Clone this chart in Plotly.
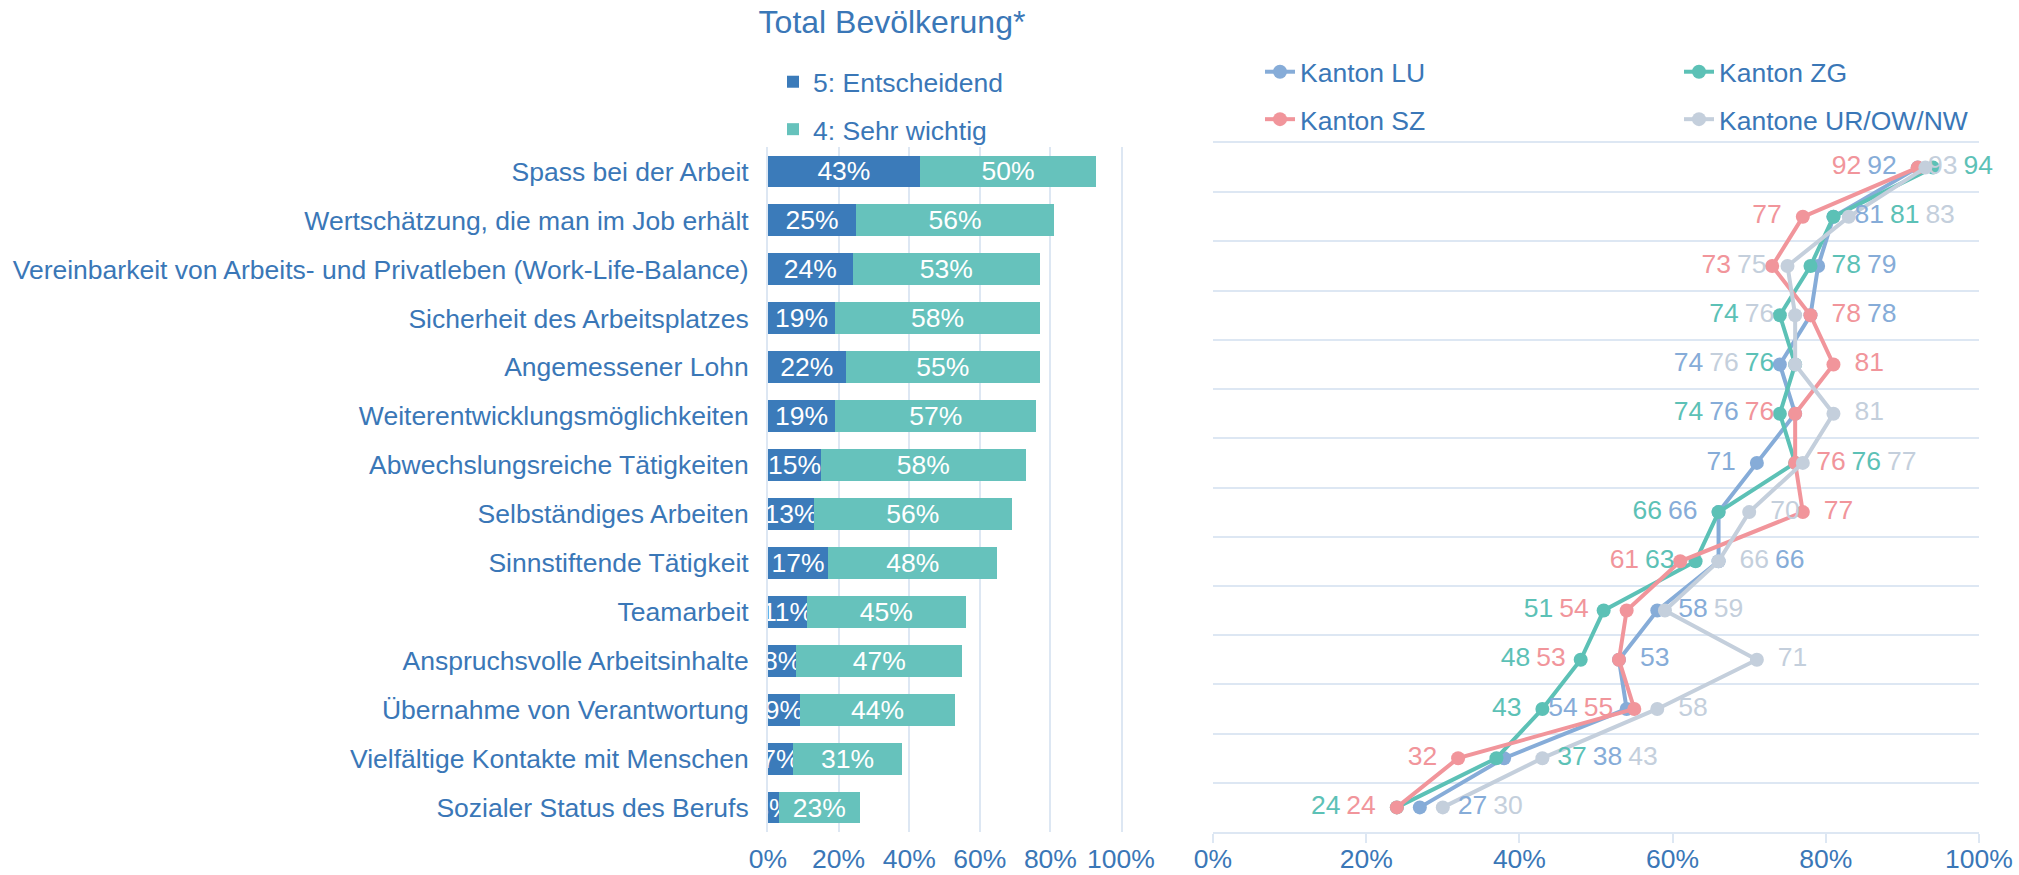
import plotly.graph_objects as go

# ---------------- data ----------------
categories = [
    "Spass bei der Arbeit",
    "Wertschätzung, die man im Job erhält",
    "Vereinbarkeit von Arbeits- und Privatleben (Work-Life-Balance)",
    "Sicherheit des Arbeitsplatzes",
    "Angemessener Lohn",
    "Weiterentwicklungsmöglichkeiten",
    "Abwechslungsreiche Tätigkeiten",
    "Selbständiges Arbeiten",
    "Sinnstiftende Tätigkeit",
    "Teamarbeit",
    "Anspruchsvolle Arbeitsinhalte",
    "Übernahme von Verantwortung",
    "Vielfältige Kontakte mit Menschen",
    "Sozialer Status des Berufs",
]
share_entscheidend = [43, 25, 24, 19, 22, 19, 15, 13, 17, 11, 8, 9, 7, 3]
share_sehr_wichtig = [50, 56, 53, 58, 55, 57, 58, 56, 48, 45, 47, 44, 31, 23]

kanton_lu = [92, 81, 79, 78, 74, 76, 71, 66, 66, 58, 53, 54, 38, 27]
kanton_zg = [94, 81, 78, 74, 76, 74, 76, 66, 63, 51, 48, 43, 37, 24]
kanton_sz = [92, 77, 73, 78, 81, 76, 76, 77, 61, 54, 53, 55, 32, 24]
kanton_ur = [93, 83, 75, 76, 76, 81, 77, 70, 66, 59, 71, 58, 43, 30]

x_ticks = [0, 20, 40, 60, 80, 100]
x_tick_labels = [f"{v}%" for v in x_ticks]

series_names = {"LU": "Kanton LU", "ZG": "Kanton ZG", "SZ": "Kanton SZ", "UR": "Kantone UR/OW/NW"}
series_values = {"LU": kanton_lu, "ZG": kanton_zg, "SZ": kanton_sz, "UR": kanton_ur}

# ---------------- style ----------------
W, H = 2019, 875
FONT = "Liberation Sans, Arial, sans-serif"
TEXT = "#3a77b7"
GRID = "#dde7f3"
C_DARK = "#3b7bba"
C_TEAL = "#66c2bc"
series_colors = {"LU": "#86acd8", "ZG": "#5cc1b6", "SZ": "#f1959b", "UR": "#c4cfdc"}
FS = 26.5

# label side/order per row (left group | right group, listed left to right)
label_layout = [
    "SZ LU | UR ZG",
    "SZ | LU ZG UR",
    "SZ UR | ZG LU",
    "ZG UR | SZ LU",
    "LU UR ZG | SZ",
    "ZG LU SZ | UR",
    "LU | SZ ZG UR",
    "ZG LU | UR SZ",
    "SZ ZG | UR LU",
    "ZG SZ | LU UR",
    "ZG SZ | LU UR",
    "ZG LU SZ | UR",
    "SZ | ZG LU UR",
    "ZG SZ | LU UR",
]

# pixel geometry of plot areas
BAR_X0, BAR_X1, BAR_Y0, BAR_Y1 = 768, 1121, 147, 832
LIN_X0, LIN_X1, LIN_Y0, LIN_Y1 = 1213, 1979, 143, 832

PX_PER_UNIT = (LIN_X1 - LIN_X0) / 100.0
CLEAR = 21 / PX_PER_UNIT
PUSH = 15 / PX_PER_UNIT
SPACE = 6 / PX_PER_UNIT
LIMIT = 100 + 14 / PX_PER_UNIT


def label_width(v):
    return len(str(v)) * 0.556 * FS / PX_PER_UNIT


def place_labels():
    n = len(categories)
    pos = {k: [None] * n for k in series_values}
    for i, spec in enumerate(label_layout):
        left_keys, right_keys = [s.split() for s in spec.split("|")]
        markers = [series_values[k][i] for k in series_values]
        # right group
        placed = []
        cursor = -1e9
        for k in right_keys:
            v = series_values[k][i]
            w = label_width(v)
            left = max(v + CLEAR, cursor + SPACE)
            moved = True
            while moved:
                moved = False
                for m in markers:
                    if left < m < left + w:
                        left = m + PUSH
                        moved = True
            placed.append([k, left, w])
            cursor = left + w
        excess = cursor - LIMIT
        if placed and excess > 0:
            for p in placed:
                p[1] -= excess
        for k, left, w in placed:
            pos[k][i] = left + w / 2
        # left group (nearest first)
        cursor = 1e9
        for k in reversed(left_keys):
            v = series_values[k][i]
            w = label_width(v)
            right = min(v - CLEAR, cursor - SPACE)
            moved = True
            while moved:
                moved = False
                for m in markers:
                    if right - w < m < right:
                        right = m - PUSH
                        moved = True
            pos[k][i] = right - w / 2
            cursor = right - w
    return pos


label_pos = place_labels()

fig = go.Figure()

# ---------------- stacked bars ----------------
for vals, name, color, grp in [
    (share_entscheidend, "5: Entscheidend", C_DARK, "a"),
    (share_sehr_wichtig, "4: Sehr wichtig", C_TEAL, "b"),
]:
    fig.add_trace(go.Bar(
        y=categories, x=vals, orientation="h", name=name,
        marker=dict(color=color, line=dict(width=0)),
        text=[f"{v}%" for v in vals], textposition="inside", textangle=0,
        insidetextanchor="middle", constraintext="none",
        textfont=dict(color="white", size=FS, family=FONT),
        xaxis="x", yaxis="y", legend="legend", legendgroup=grp, hoverinfo="skip",
    ))

# ---------------- lines ----------------
rows = list(range(len(categories)))
legend_of = {"LU": "legend2", "SZ": "legend2", "ZG": "legend3", "UR": "legend3"}
for k in ["LU", "ZG", "SZ", "UR"]:
    fig.add_trace(go.Scatter(
        x=series_values[k], y=rows, mode="lines+markers", name=series_names[k],
        line=dict(color=series_colors[k], width=4),
        marker=dict(color=series_colors[k], size=14),
        xaxis="x2", yaxis="y2", legend=legend_of[k], legendgroup=k, hoverinfo="skip",
    ))
# value labels live on the overlaying axis x3 (same scale as x2)
for k in ["LU", "ZG", "SZ", "UR"]:
    fig.add_trace(go.Scatter(
        x=label_pos[k], y=rows, mode="text", text=[str(v) for v in series_values[k]],
        textposition="middle center", textfont=dict(color=series_colors[k], size=FS, family=FONT),
        xaxis="x3", yaxis="y2", showlegend=False, cliponaxis=False, hoverinfo="skip",
    ))


def px(x):
    return x / W


def py(y):
    return 1 - y / H


fig.update_layout(
    width=W, height=H,
    margin=dict(l=0, r=0, t=0, b=0, autoexpand=False),
    paper_bgcolor="white", plot_bgcolor="white",
    font=dict(family=FONT, size=FS, color=TEXT),
    barmode="stack", bargap=0.35,
    uniformtext=dict(minsize=FS, mode="show"),
    title=dict(text="Total Bevölkerung*", x=px(892), y=py(22), xanchor="center", yanchor="middle",
               font=dict(size=32, color=TEXT, family=FONT)),
    xaxis=dict(domain=[px(BAR_X0), px(BAR_X1)], range=[0, 100], tickvals=x_ticks,
               ticktext=x_tick_labels, showgrid=True, gridcolor=GRID, gridwidth=2, zeroline=False,
               showline=False, ticks="", ticklabelstandoff=8, anchor="y", automargin=False,
               tickfont=dict(size=FS, color=TEXT), fixedrange=True),
    yaxis=dict(domain=[py(BAR_Y1), py(BAR_Y0)], autorange="reversed", type="category",
               showgrid=False, zeroline=False, showline=True, mirror=True, linecolor=GRID,
               linewidth=2, ticks="", ticklabelstandoff=12, automargin=False,
               tickfont=dict(size=FS, color=TEXT), anchor="x", fixedrange=True),
    # line chart axis: line + outside ticks; labels drawn by the overlaying axis x3
    xaxis2=dict(domain=[px(LIN_X0), px(LIN_X1)], range=[0, 100], tickvals=x_ticks,
                showticklabels=False, showgrid=False, zeroline=False, showline=True,
                mirror=True, linecolor=GRID, automargin=False,
                linewidth=2, ticks="outside", ticklen=9, tickwidth=2, tickcolor=GRID,
                anchor="y2", fixedrange=True),
    xaxis3=dict(domain=[px(LIN_X0), px(LIN_X1)], range=[0, 100], tickvals=x_ticks,
                ticktext=x_tick_labels, overlaying="x2", anchor="y2", side="bottom",
                showgrid=False, zeroline=False, showline=False, ticks="",
                ticklabelstandoff=8, automargin=False,
                tickfont=dict(size=FS, color=TEXT), fixedrange=True),
    yaxis2=dict(domain=[py(LIN_Y1), py(LIN_Y0)], range=[len(categories) - 0.5, -0.5],
                tickvals=[i - 0.5 for i in range(len(categories))], showticklabels=False,
                showgrid=True, gridcolor=GRID, gridwidth=2, zeroline=False, showline=False,
                ticks="", anchor="x2", automargin=False, fixedrange=True),
    legend=dict(x=px(773), y=py(58), xanchor="left", yanchor="top", traceorder="grouped",
                tracegroupgap=10, font=dict(size=FS, color=TEXT), bgcolor="rgba(0,0,0,0)"),
    legend2=dict(x=px(1260), y=py(48), xanchor="left", yanchor="top", traceorder="grouped",
                 tracegroupgap=10, font=dict(size=FS, color=TEXT), bgcolor="rgba(0,0,0,0)"),
    legend3=dict(x=px(1679), y=py(48), xanchor="left", yanchor="top", traceorder="grouped",
                 tracegroupgap=10, font=dict(size=FS, color=TEXT), bgcolor="rgba(0,0,0,0)"),
)

fig.write_html("out.html", config={"displayModeBar": False},
               post_script="document.body.style.margin='0px';")
